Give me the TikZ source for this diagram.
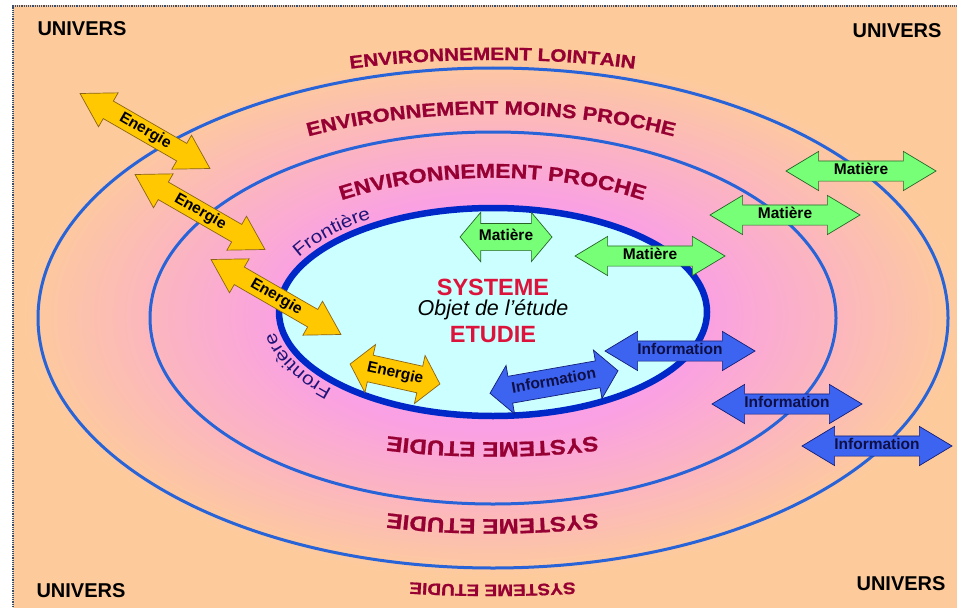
\documentclass[tikz,border=0pt]{standalone}
\usepackage{fontspec}
\setmainfont{Liberation Sans}
\newfontfamily\arcfont[FakeStretch=1.15, BoldFeatures={FakeBold=1}]{Liberation Sans}
\usetikzlibrary{shapes.arrows,decorations.text}
\definecolor{univpeach}{RGB}{253,203,155}
\definecolor{envpink}{RGB}{250,160,228}
\definecolor{sysfill}{RGB}{204,255,255}
\definecolor{sysblue}{RGB}{0,40,200}
\definecolor{ringblue}{RGB}{40,100,215}
\definecolor{envred}{RGB}{150,0,50}
\definecolor{sysred}{RGB}{220,20,60}
\definecolor{frontnavy}{RGB}{30,20,120}
\definecolor{energiefill}{RGB}{255,200,0}
\definecolor{energieline}{RGB}{140,100,20}
\definecolor{matierefill}{RGB}{120,255,120}
\definecolor{matiereline}{RGB}{40,100,40}
\definecolor{infofill}{RGB}{60,100,240}
\definecolor{infoline}{RGB}{20,30,120}
\definecolor{infotext}{RGB}{15,15,70}
\definecolor{framec}{RGB}{60,80,110}
\pgfdeclareradialshading{envshade}{\pgfpoint{0bp}{0bp}}{color(0bp)=(envpink); color(9.2bp)=(envpink); color(21bp)=(univpeach); color(50bp)=(univpeach)}
\tikzset{
ring/.style={draw=ringblue, line width=3pt},
sysring/.style={draw=sysblue, fill=sysfill, line width=6.5pt},
univers/.style={font=\bfseries\fontsize{20}{22}\selectfont, text=black},
systitle/.style={font=\bfseries\fontsize{23.5}{26}\selectfont, text=sysred, inner sep=0pt},
flux/.style={double arrow, draw, line width=0.7pt, inner sep=0pt, inner ysep=3pt,
  text height=10.5pt, text depth=3pt, font=\bfseries\fontsize{15.5}{16}\selectfont,
  double arrow head extend=9.5pt, double arrow tip angle=62, minimum height=150pt},
fat/.style={inner ysep=6.5pt, double arrow head extend=11pt, double arrow tip angle=100, minimum height=92pt},
energie/.style={fill=energiefill, draw=energieline},
matiere/.style={fill=matierefill, draw=matiereline},
info/.style={fill=infofill, draw=infoline, text=infotext},
arclabel/.style={decorate, decoration={text along path, text align=center, text color=envred}},
frontlabel/.style={decorate, decoration={text along path, text align=center, text color=frontnavy}},
}

\begin{document}
\begin{tikzpicture}[x=1pt, y=-1pt]
\useasboundingbox (0,0) rectangle (957,607);
% fond
\fill[white] (0,0) rectangle (957,607);
\begin{scope}
\clip (13,6) rectangle (957,607);
\fill[shading=envshade] (-67,3.5) rectangle (1053,628.5);
\end{scope}
\draw[framec, densely dotted, line width=1.2pt] (13,607) -- (13,6) -- (957,6);

% anneaux
\draw[ring] (493,318) ellipse[x radius=455, y radius=250];
\draw[ring] (493,318) ellipse[x radius=343, y radius=186];
\draw[sysring] (493,312) ellipse[x radius=214, y radius=104];

% environnements
\path[arclabel, decoration={text={|\arcfont\bfseries\fontsize{18}{19}\selectfont|ENVIRONNEMENT LOINTAIN}}]
  (300,78) .. controls (400,54) and (585,54) .. (685,78);
\path[arclabel, decoration={text={|\arcfont\bfseries\fontsize{19}{20}\selectfont|ENVIRONNEMENT MOINS PROCHE}}]
  (270,148) .. controls (400,103) and (582,103) .. (712,148);
\path[arclabel, decoration={text={|\arcfont\bfseries\fontsize{20}{21}\selectfont|ENVIRONNEMENT PROCHE}}]
  (290,222) .. controls (400,163) and (585,163) .. (695,222);

% systeme
\node[systitle] (sys) at (493,287) {SYSTEME};
\node[inner sep=0pt, font=\itshape\fontsize{21.5}{24}\selectfont] (objet) at (493,310) {Objet de l’étude};
\node[systitle] (etudie) at (493,335) {ETUDIE};

% frontiere
\path[frontlabel, decoration={text={|\arcfont\fontsize{18}{19}\selectfont|Frontière}}]
  (493,312) ++(200:222 and 112) arc[start angle=200, end angle=243, x radius=222, y radius=112];
\path[frontlabel, decoration={text={|\arcfont\fontsize{18}{19}\selectfont|Frontière}}]
  (493,312) ++(133:222 and 112) arc[start angle=133, end angle=175, x radius=222, y radius=112];

% echanges
\node[flux, energie, rotate=-30] (en1) at (145,131) {Energie};
\node[flux, energie, rotate=-30] (en2) at (200,212) {Energie};
\node[flux, energie, rotate=-30] (en3) at (276,297) {Energie};
\node[flux, energie, fat, rotate=-12.5] (en4) at (395,374) {Energie};

\node[flux, matiere] (mat1) at (861,171) {Matière};
\node[flux, matiere] (mat2) at (785,215) {Matière};
\node[flux, matiere] (mat3) at (650,256) {Matière};
\node[flux, matiere, fat] (mat4) at (506,237) {Matière};

\node[flux, info] (info1) at (680,351) {Information};
\node[flux, info] (info2) at (787,404) {Information};
\node[flux, info] (info3) at (877,446) {Information};
\node[flux, info, fat, minimum height=130pt, rotate=10] (info4) at (554,382) {Information};

% systeme etudie (renverse)
\path[arclabel, decoration={text={|\arcfont\bfseries\fontsize{21}{22}\selectfont|SYSTEME ETUDIE}}]
  (640,428) .. controls (570,447) and (415,447) .. (345,428);
\path[arclabel, decoration={text={|\arcfont\bfseries\fontsize{21}{22}\selectfont|SYSTEME ETUDIE}}]
  (640,505) .. controls (570,524) and (415,524) .. (345,505);
\path[arclabel, decoration={text={|\arcfont\bfseries\fontsize{16.5}{18}\selectfont|SYSTEME ETUDIE}}]
  (620,578) .. controls (555,587) and (430,587) .. (365,578);

% univers
\node[univers] (univNO) at (82,29) {UNIVERS};
\node[univers] (univNE) at (897,31) {UNIVERS};
\node[univers] (univSO) at (81,591) {UNIVERS};
\node[univers] (univSE) at (901,584) {UNIVERS};
\end{tikzpicture}
\end{document}
